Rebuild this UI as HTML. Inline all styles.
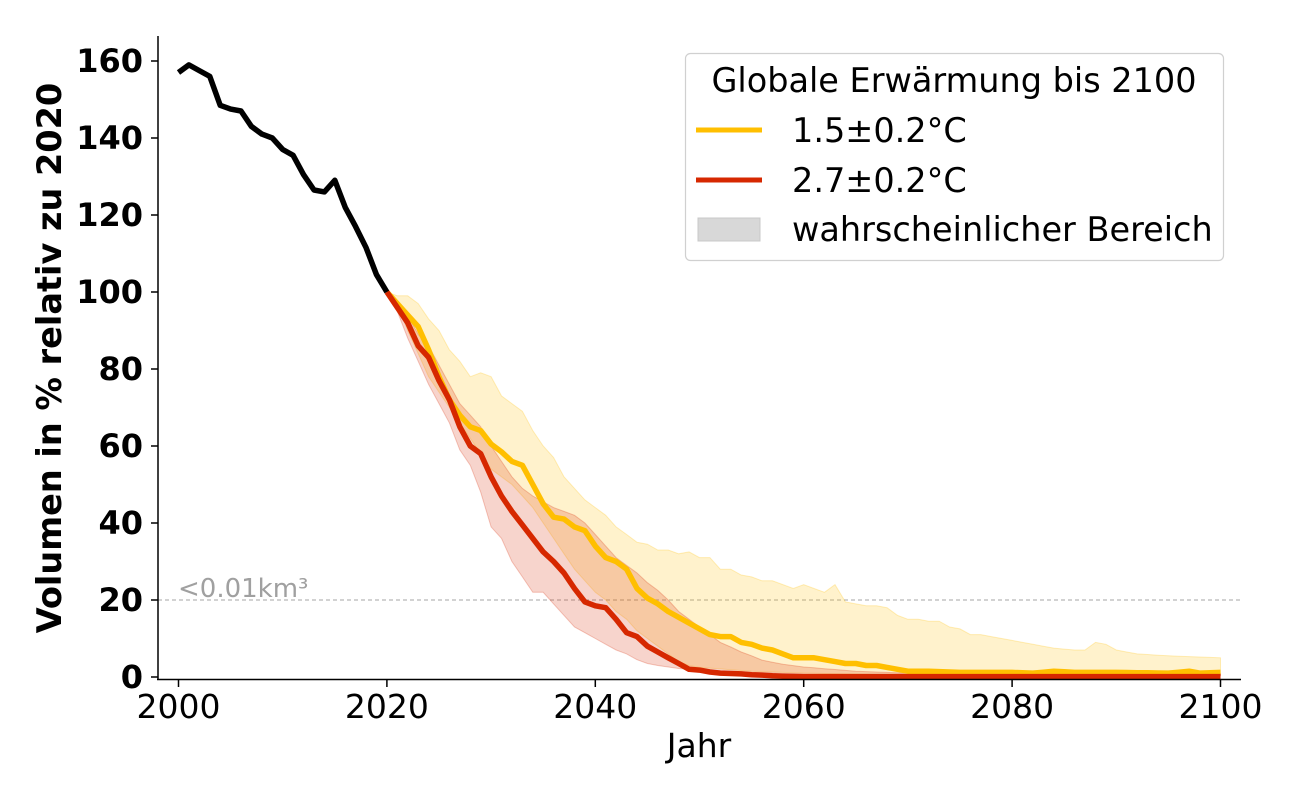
<!DOCTYPE html>
<html><head><meta charset="utf-8"><style>
html,body{margin:0;padding:0;background:#fff;}
svg{display:block;font-family:"DejaVu Sans","Liberation Sans",sans-serif;}
</style></head><body>
<svg id="s" width="1300" height="800" xmlns="http://www.w3.org/2000/svg">
<g id="plot"></g>
<line x1="158" y1="36" x2="158" y2="680" stroke="#000" stroke-width="1.5"/>
<line x1="157" y1="679.5" x2="1241" y2="679.5" stroke="#000" stroke-width="1.5"/>
<g id="ticks"></g>
<text x="178" y="597" font-size="26" fill="#a0a0a0">&lt;0.01km³</text>
<text x="699" y="757" font-size="33" text-anchor="middle">Jahr</text>
<text transform="translate(61,358) rotate(-90)" font-size="33.5" font-weight="bold" text-anchor="middle">Volumen in % relativ zu 2020</text>
<rect x="685.5" y="53.5" width="538" height="207" rx="5" fill="#fff" fill-opacity="0.8" stroke="#d0d0d0" stroke-width="1.2"/>
<text x="954" y="92" font-size="33.5" text-anchor="middle">Globale Erwärmung bis 2100</text>
<line x1="696" y1="130" x2="762" y2="130" stroke="#ffbf00" stroke-width="5"/>
<text x="792" y="142" font-size="33.5">1.5±0.2°C</text>
<line x1="696" y1="180" x2="762" y2="180" stroke="#d62800" stroke-width="5"/>
<text x="792" y="192" font-size="33.5">2.7±0.2°C</text>
<rect x="698" y="218" width="62" height="23" fill="#d8d8d8" stroke="#c8c8c8"/>
<text x="792" y="241" font-size="33.5">wahrscheinlicher Bereich</text>
</svg>
<script>
function X(y){return 178.5+(y-2000)*10.42;}
function Y(v){return 677-v*3.85;}
function interp(o){var ks=Object.keys(o).map(Number).sort((a,b)=>a-b),r=[];
for(var y=ks[0];y<=ks[ks.length-1];y++){var i=0;while(ks[i+1]<y)i++;var a=ks[i],b=ks[i+1];
if(y==a){r.push([y,o[a]]);continue;}if(b===undefined){r.push([y,o[a]]);continue;}
r.push([y,o[a]+(o[b]-o[a])*(y-a)/(b-a)]);}return r;}
function pts(a){return a.map(p=>X(p[0]).toFixed(1)+","+Y(p[1]).toFixed(1)).join(" ");}
var black={2000:157,2001:159,2002:157.5,2003:156,2004:148.5,2005:147.5,2006:147,2007:143,2008:141,2009:140,2010:137,2011:135.5,2012:130.5,2013:126.5,2014:126,2015:129,2016:122,2017:117,2018:111.5,2019:104.5,2020:100};
var yel={2020:100,2021:97,2022:94,2023:91,2024:85,2025:78,2026:72,2027:68,2028:65,2029:64,2030:60.5,2031:58.5,2032:56,2033:55,2034:50,2035:45,2036:41.5,2037:41,2038:39,2039:38,2040:34,2041:31,2042:30,2043:28,2044:23,2045:20.5,2046:19,2047:17,2048:15.5,2049:14,2050:12.5,2051:11,2052:10.5,2053:10.5,2054:9,2055:8.5,2056:7.5,2057:7,2058:6,2059:5,2060:5,2061:5,2062:4.5,2063:4,2064:3.5,2065:3.5,2066:3,2067:3,2068:2.5,2069:2,2070:1.5,2072:1.5,2075:1.2,2080:1.2,2082:1,2084:1.5,2086:1.2,2090:1.2,2095:1,2097:1.5,2098:1,2100:1.2};
var red={2020:100,2021:96,2022:92,2023:86,2024:83,2025:77,2026:72,2027:65,2028:60,2029:58,2030:52,2031:47,2032:43,2033:39.5,2034:36,2035:32.5,2036:30,2037:27,2038:23,2039:19.5,2040:18.5,2041:18,2042:15,2043:11.5,2044:10.5,2045:8,2046:6.5,2047:5,2048:3.5,2049:2,2050:1.8,2051:1.3,2052:1,2053:0.9,2054:0.8,2055:0.6,2056:0.5,2057:0.3,2058:0.2,2060:0.1,2100:0.1};
var yu={2020:100,2021:99,2022:99,2023:97,2024:93,2025:90,2026:85,2027:82,2028:78,2029:79,2030:78,2031:73,2032:71,2033:69,2034:64,2035:60,2036:57,2037:52,2038:49,2039:46,2040:44,2041:42,2042:39,2043:37,2044:35,2045:34.5,2046:33,2047:33,2048:32,2049:32.5,2050:31,2051:31,2052:28,2053:28,2054:26.5,2055:26,2056:25,2057:25,2058:24,2059:23,2060:24,2061:23,2062:22,2063:24,2064:19.5,2065:19,2066:18.5,2067:18.5,2068:18,2069:16,2070:15,2071:15,2072:14.5,2073:14.5,2074:13,2075:12.5,2076:11,2077:11,2078:10.5,2079:10,2080:9.5,2082:8.5,2084:7.5,2086:7,2087:7,2088:9,2089:8.5,2090:7,2092:6,2095:5.5,2100:5};
var yl={2020:100,2021:97,2022:90,2023:84,2024:78,2025:74,2026:70,2027:66,2028:62,2029:58,2030:54,2031:52,2032:50,2033:47,2034:44,2035:40,2036:36,2037:32,2038:28,2039:25,2040:22,2041:20,2042:17,2043:15,2044:12,2045:10,2046:8,2047:6,2048:4,2049:3,2050:2.5,2055:1.5,2060:1,2070:0.5,2100:0.4};
var ru={2020:100,2021:97,2022:94,2023:89,2024:86,2025:81,2026:76,2027:71,2028:68,2029:65,2030:60,2031:56,2032:52,2033:49,2034:47,2035:45.5,2036:44,2037:43,2038:42,2039:40,2040:37,2041:34,2042:31,2043:29,2044:27,2045:24.5,2046:22.5,2047:20,2048:17,2049:15,2050:13,2051:11,2052:9,2053:7.8,2054:6.5,2055:5.5,2056:4.4,2058:3.3,2060:2.6,2065:1.5,2070:1,2100:0.8};
var rl={2020:100,2021:95,2022:88,2023:82,2024:76,2025:71,2026:66,2027:59,2028:55,2029:48,2030:39,2031:36,2032:30,2033:26,2034:22,2035:22,2036:19,2037:16,2038:13,2039:11.5,2040:10,2041:8.5,2042:7,2043:6,2044:4.5,2045:3.5,2046:3,2048:2.2,2050:1.8,2055:1.2,2060:0.7,2100:0.3};
function band(u,l,fill,stroke){var a=interp(u),b=interp(l).reverse();
return '<polygon points="'+pts(a)+' '+pts(b)+'" fill="'+fill+'" stroke="'+stroke+'" stroke-width="1"/>';}
function line(o,c){return '<polyline points="'+pts(interp(o))+'" fill="none" stroke="'+c+'" stroke-width="5.5" stroke-linejoin="round"/>';}
var h='';
h+='<line x1="158" y1="'+Y(20)+'" x2="1240" y2="'+Y(20)+'" stroke="#b8b8b8" stroke-width="1.2" stroke-dasharray="4,3"/>';
h+=band(yu,yl,"rgba(255,191,0,0.2)","rgba(255,191,0,0.25)");
h+=band(ru,rl,"rgba(214,40,0,0.2)","rgba(214,40,0,0.25)");
h+=line(yel,"#ffbf00");
h+=line(red,"#d62800");
h+=line(black,"#000");
document.getElementById('plot').innerHTML=h;
var t='';
for(var v=0;v<=160;v+=20){var y=Y(v);t+='<line x1="151" y1="'+y+'" x2="158" y2="'+y+'" stroke="#000" stroke-width="1.5"/><text x="143" y="'+(y+11)+'" font-size="32" font-weight="bold" text-anchor="end">'+v+'</text>';}
for(var yr=2000;yr<=2100;yr+=20){var x=X(yr);t+='<line x1="'+x+'" y1="680" x2="'+x+'" y2="687" stroke="#000" stroke-width="1.5"/><text x="'+x+'" y="718" font-size="33" text-anchor="middle">'+yr+'</text>';}
document.getElementById('ticks').innerHTML=t;
</script>
</body></html>
